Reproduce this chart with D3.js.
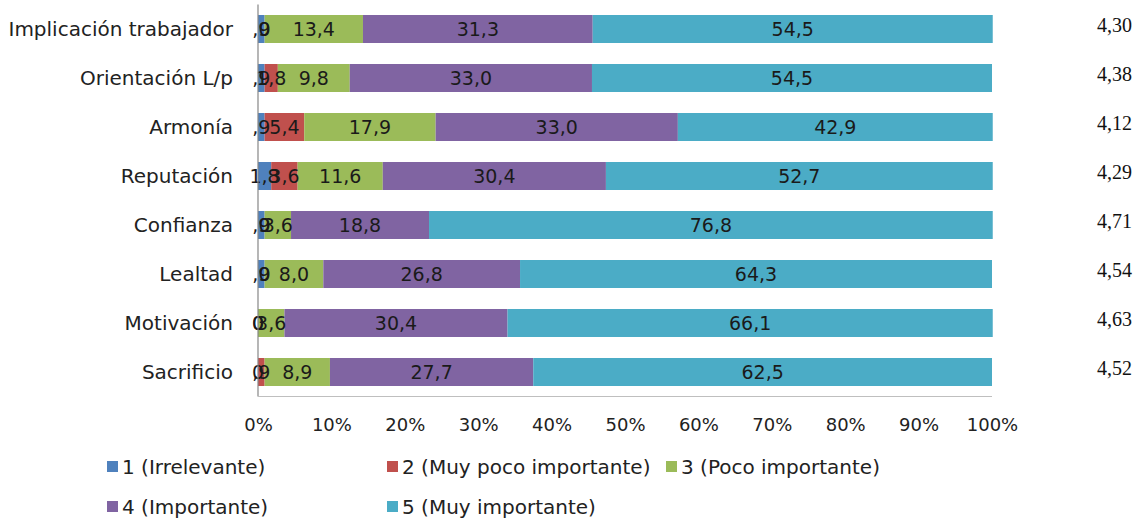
<!DOCTYPE html>
<html><head><meta charset="utf-8">
<script src="https://cdn.jsdelivr.net/npm/d3@7"></script>
<style>
html,body{margin:0;padding:0;background:#fff;}
svg{display:block;}
</style>
</head><body>
<svg id="chart" width="1145" height="518"></svg>
<script>
// ---- data ----
const categories = ["Implicación trabajador","Orientación L/p","Armonía","Reputación","Confianza","Lealtad","Motivación","Sacrificio"];
const seriesNames = ["1 (Irrelevante)","2 (Muy poco importante)","3 (Poco importante)","4 (Importante)","5 (Muy importante)"];
const s1 = [0.9, 0.9, 0.9, 1.8, 0.9, 0.9, 0, 0];
const s2 = [0, 1.8, 5.4, 3.6, 0, 0, 0, 0.9];
const s3 = [13.4, 9.8, 17.9, 11.6, 3.6, 8.0, 3.6, 8.9];
const s4 = [31.3, 33.0, 33.0, 30.4, 18.8, 26.8, 30.4, 27.7];
const s5 = [54.5, 54.5, 42.9, 52.7, 76.8, 64.3, 66.1, 62.5];
const means = ["4,30","4,38","4,12","4,29","4,71","4,54","4,63","4,52"];
const tickValues = [0,10,20,30,40,50,60,70,80,90,100];
const colors = ["#4F81BD","#C0504D","#9BBB59","#8064A2","#4BACC6"];

const seriesValues = [s1,s2,s3,s4,s5];
const rows = categories.map((c,i)=>{
  const o = {cat:c};
  seriesNames.forEach((k,j)=>{ o[k] = seriesValues[j][i]; });
  return o;
});

const svg = d3.select("#chart");
const x = d3.scaleLinear().domain([0,100]).range([258, 992]);
const y = d3.scaleBand().domain(categories).range([4.5, 396.5])
  .paddingInner(0.4286).paddingOuter(0.2143);
const color = d3.scaleOrdinal().domain(seriesNames).range(colors);

const stack = d3.stack().keys(seriesNames);
const layers = stack(rows);

const fmt = v => {
  if (v === 0) return "0";
  const s = d3.format(".1f")(v).replace(".", ",");
  return v < 1 ? s.replace(/^0/, "") : s;
};

// bars
const g = svg.append("g");
layers.forEach(layer=>{
  g.selectAll(null).data(layer).enter().append("rect")
    .attr("x", d=>x(d[0]))
    .attr("y", d=>y(d.data.cat))
    .attr("width", d=>x(d[1])-x(d[0]))
    .attr("height", y.bandwidth())
    .attr("fill", color(layer.key));
});

// axis lines
svg.append("line").attr("x1",x(0)).attr("x2",x(0)).attr("y1",y.range()[0]).attr("y2",y.range()[1])
  .attr("stroke","#868686").attr("stroke-width",1.2);
svg.append("line").attr("x1",x(0)).attr("x2",x(100)).attr("y1",y.range()[1]).attr("y2",y.range()[1])
  .attr("stroke","#bfbfbf").attr("stroke-width",1);

// segment labels
layers.forEach(layer=>{
  g.selectAll(null).data(layer).enter().append("text")
    .attr("x", d=>(x(d[0])+x(d[1]))/2)
    .attr("y", d=>y(d.data.cat)+y.bandwidth()/2)
    .attr("dy","0.36em")
    .attr("text-anchor","middle")
    .attr("font-family","DejaVu Sans, sans-serif")
    .attr("font-size",19)
    .attr("fill","#1a1a1a")
    .text(d=>fmt(d.data[layer.key]));
});

// category axis (left)
const yAxis = d3.axisLeft(y).tickSize(0).tickPadding(0);
const ya = svg.append("g").attr("transform",`translate(${x(0)-25},0)`).call(yAxis);
ya.select(".domain").remove();
ya.selectAll("text").attr("font-family","DejaVu Sans, sans-serif").attr("font-size",20)
  .attr("fill","#222").attr("dy","0.36em");

// x axis (bottom)
const xAxis = d3.axisBottom(x).tickValues(tickValues).tickSize(0).tickPadding(0).tickFormat(d=>d+"%");
const xa = svg.append("g").attr("transform",`translate(0,${y.range()[1]+28})`).call(xAxis);
xa.select(".domain").remove();
xa.selectAll("text").attr("font-family","DejaVu Sans, sans-serif").attr("font-size",18)
  .attr("fill","#222").attr("dy","0.36em");

// means (right)
svg.append("g").selectAll("text").data(categories).enter().append("text")
  .attr("x", 1097)
  .attr("y", (d,i)=>y(d)+y.bandwidth()/2-4)
  .attr("dy","0.36em")
  .attr("font-family","Liberation Serif, Times New Roman, serif")
  .attr("font-size",20)
  .attr("fill","#111")
  .text((d,i)=>means[i]);

// legend
const legendPos = [[107,467],[387,467],[666,467],[107,507],[387,507]];
const lg = svg.append("g");
seriesNames.forEach((n,i)=>{
  const [lx,ly] = legendPos[i];
  lg.append("rect").attr("x",lx).attr("y",ly-6).attr("width",11).attr("height",11).attr("fill",colors[i]);
  lg.append("text").attr("x",lx+15).attr("y",ly).attr("dy","0.36em")
    .attr("font-family","DejaVu Sans, sans-serif").attr("font-size",20).attr("fill","#222").text(n);
});
</script>
</body></html>
